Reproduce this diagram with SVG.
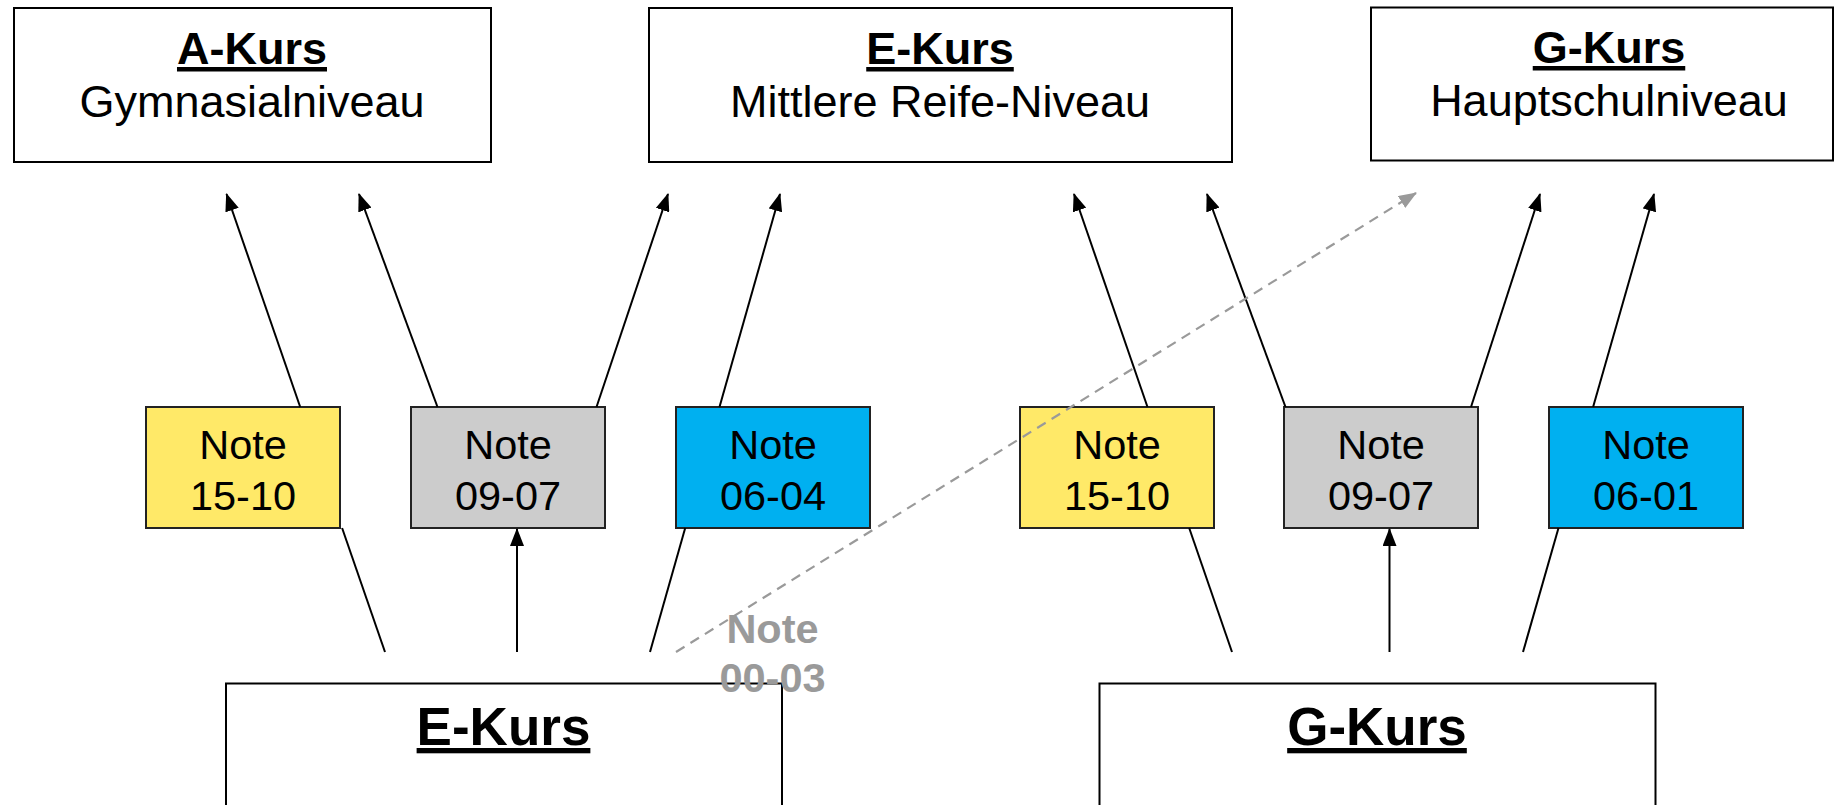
<svg xmlns="http://www.w3.org/2000/svg" width="1834" height="805" viewBox="0 0 1834 805">
<defs>
<style>
.box{fill:#fff;stroke:#000;stroke-width:2}
.note{stroke:#222;stroke-width:2}
.y{fill:#FFE968}.g{fill:#CCCCCC}.b{fill:#00B0F0}
.t{font-family:"Liberation Sans",Arial,sans-serif;text-anchor:middle;fill:#000}
.h{font-weight:bold;text-decoration:underline}
.ln{stroke:#000;stroke-width:2;fill:none}
.arr{marker-end:url(#ah)}
.dash{stroke:#9a9a9a;stroke-width:2.2;stroke-dasharray:10 7;fill:none;marker-end:url(#ahg)}
</style>
<marker id="ah" viewBox="0 0 18 14" refX="17" refY="7" markerWidth="18" markerHeight="14" markerUnits="userSpaceOnUse" orient="auto">
<path d="M0,0 L18,7 L0,14 z" fill="#000"/>
</marker>
<marker id="ahg" viewBox="0 0 18 14" refX="17" refY="7" markerWidth="18" markerHeight="14" markerUnits="userSpaceOnUse" orient="auto">
<path d="M0,0 L18,7 L0,14 z" fill="#9a9a9a"/>
</marker>
</defs>
<rect width="1834" height="805" fill="#fff"/>

<g id="top-a-kurs">
<rect class="box" x="14" y="8" width="477" height="154"/>
<text class="t h" x="252" y="64" font-size="45">A-Kurs</text>
<text class="t" x="252" y="117" font-size="45">Gymnasialniveau</text>
</g>
<g id="top-e-kurs">
<rect class="box" x="649" y="8" width="583" height="154"/>
<text class="t h" x="940" y="64" font-size="45">E-Kurs</text>
<text class="t" x="940" y="117" font-size="45">Mittlere Reife-Niveau</text>
</g>
<g id="top-g-kurs">
<rect class="box" x="1371" y="7.5" width="462" height="153"/>
<text class="t h" x="1609" y="63" font-size="45">G-Kurs</text>
<text class="t" x="1609" y="116" font-size="45">Hauptschulniveau</text>
</g>

<g id="note-e-1510">
<rect class="note y" x="146" y="407" width="194" height="121"/>
<text class="t" x="243" y="459" font-size="41.5">Note</text>
<text class="t" x="243" y="510" font-size="41.5">15-10</text>
</g>
<g id="note-e-0907">
<rect class="note g" x="411" y="407" width="194" height="121"/>
<text class="t" x="508" y="459" font-size="41.5">Note</text>
<text class="t" x="508" y="510" font-size="41.5">09-07</text>
</g>
<g id="note-e-0604">
<rect class="note b" x="676" y="407" width="194" height="121"/>
<text class="t" x="773" y="459" font-size="41.5">Note</text>
<text class="t" x="773" y="510" font-size="41.5">06-04</text>
</g>
<g id="note-g-1510">
<rect class="note y" x="1020" y="407" width="194" height="121"/>
<text class="t" x="1117" y="459" font-size="41.5">Note</text>
<text class="t" x="1117" y="510" font-size="41.5">15-10</text>
</g>
<g id="note-g-0907">
<rect class="note g" x="1284" y="407" width="194" height="121"/>
<text class="t" x="1381" y="459" font-size="41.5">Note</text>
<text class="t" x="1381" y="510" font-size="41.5">09-07</text>
</g>
<g id="note-g-0601">
<rect class="note b" x="1549" y="407" width="194" height="121"/>
<text class="t" x="1646" y="459" font-size="41.5">Note</text>
<text class="t" x="1646" y="510" font-size="41.5">06-01</text>
</g>

<g id="bottom-e-kurs">
<rect class="box" x="226" y="683.5" width="556" height="140"/>
<text class="t h" x="503.5" y="745" font-size="53">E-Kurs</text>
</g>
<g id="bottom-g-kurs">
<rect class="box" x="1099.5" y="683.5" width="556" height="140"/>
<text class="t h" x="1377" y="745" font-size="53">G-Kurs</text>
</g>

<g id="connectors">
<line class="ln" x1="385" y1="652" x2="342.1" y2="528"/>
<line class="ln arr" x1="300.2" y1="407" x2="226.5" y2="194"/>
<line class="ln arr" x1="517" y1="652" x2="517" y2="529"/>
<line class="ln arr" x1="437.5" y1="407" x2="359" y2="194"/>
<line class="ln arr" x1="596.5" y1="407" x2="668" y2="194"/>
<line class="ln" x1="650" y1="652" x2="685.2" y2="528"/>
<line class="ln arr" x1="719.5" y1="407" x2="780" y2="194"/>

<line class="ln" x1="1232" y1="652" x2="1189.2" y2="528"/>
<line class="ln arr" x1="1147.5" y1="407" x2="1074" y2="194"/>
<line class="ln arr" x1="1389.5" y1="652" x2="1389.5" y2="529"/>
<line class="ln arr" x1="1285.5" y1="407" x2="1207" y2="194"/>
<line class="ln arr" x1="1471" y1="407" x2="1540" y2="194"/>
<line class="ln" x1="1523" y1="652" x2="1558.5" y2="528"/>
<line class="ln arr" x1="1593.1" y1="407" x2="1654" y2="194"/>

<line class="dash" x1="676" y1="652" x2="1416" y2="193"/>
<text class="t" x="772.5" y="643" font-size="41.5" font-weight="bold" fill="#9a9a9a" style="fill:#9a9a9a">Note</text>
<text class="t" x="772.5" y="692" font-size="41.5" font-weight="bold" style="fill:#9a9a9a">00-03</text>
</g>
</svg>
